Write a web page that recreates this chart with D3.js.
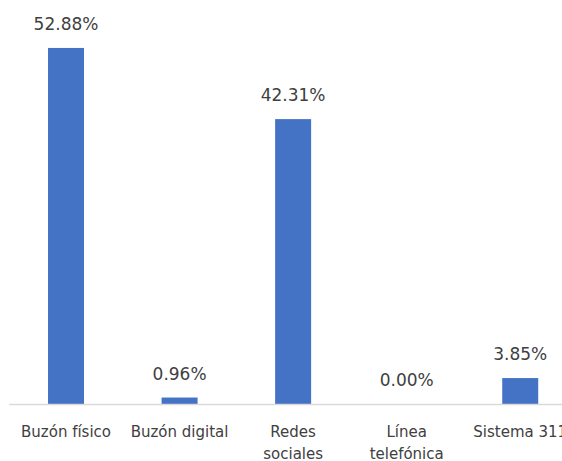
<!DOCTYPE html>
<html>
<head>
<meta charset="utf-8">
<script src="https://cdn.jsdelivr.net/npm/d3@7"></script>
<style>
  body { margin: 0; background: #fff; }
  svg { display: block; overflow: hidden; }
  text { font-family: "DejaVu Sans", sans-serif; fill: #404040; }
</style>
</head>
<body>
<div id="chart"></div>
<script>
/* categories and values */
var categories = ["Buzón físico", "Buzón digital", "Redes sociales", "Línea telefónica", "Sistema 311"];
var tickLines = [["Buzón físico"], ["Buzón digital"], ["Redes", "sociales"], ["Línea", "telefónica"], ["Sistema 311"]];
var values = [52.88, 0.96, 42.31, 0.00, 3.85];

var width = 562, height = 461;
var baseY = 404;

var svg = d3.select("#chart")
    .append("svg")
    .attr("width", width)
    .attr("height", height);

var x = d3.scaleBand()
    .domain(categories)
    .range([9.25, 577])
    .paddingInner(0.683)
    .paddingOuter(0.683 / 2);

var y = d3.scaleLinear()
    .domain([0, 60])
    .range([baseY, 0]);

/* bars */
svg.selectAll("rect.bar")
    .data(values)
    .enter().append("rect")
    .attr("class", "bar")
    .attr("x", function (d, i) { return x(categories[i]); })
    .attr("y", function (d) { return y(d); })
    .attr("width", x.bandwidth())
    .attr("height", function (d) { return baseY - y(d); })
    .attr("fill", "#4472C4");

/* baseline */
svg.append("line")
    .attr("x1", 9.25).attr("x2", width)
    .attr("y1", baseY + 0.5).attr("y2", baseY + 0.5)
    .attr("stroke", "#d9d9d9")
    .attr("stroke-width", 1.5);

/* value labels */
svg.selectAll("text.val")
    .data(values)
    .enter().append("text")
    .attr("class", "val")
    .attr("x", function (d, i) { return x(categories[i]) + x.bandwidth() / 2; })
    .attr("y", function (d) { return y(d) - 18; })
    .attr("text-anchor", "middle")
    .style("font-size", "17px")
    .text(function (d) { return d.toFixed(2) + "%"; });

/* category labels */
var ticks = svg.selectAll("text.cat")
    .data(categories)
    .enter().append("text")
    .attr("class", "cat")
    .attr("text-anchor", "middle")
    .style("font-size", "15px")
    .attr("transform", function (d) { return "translate(" + (x(d) + x.bandwidth() / 2) + ",437)"; });

ticks.selectAll("tspan")
    .data(function (d, i) { return tickLines[i]; })
    .enter().append("tspan")
    .attr("x", 0)
    .attr("dy", function (d, j) { return j === 0 ? 0 : 22; })
    .text(function (d) { return d; });
</script>
</body>
</html>
